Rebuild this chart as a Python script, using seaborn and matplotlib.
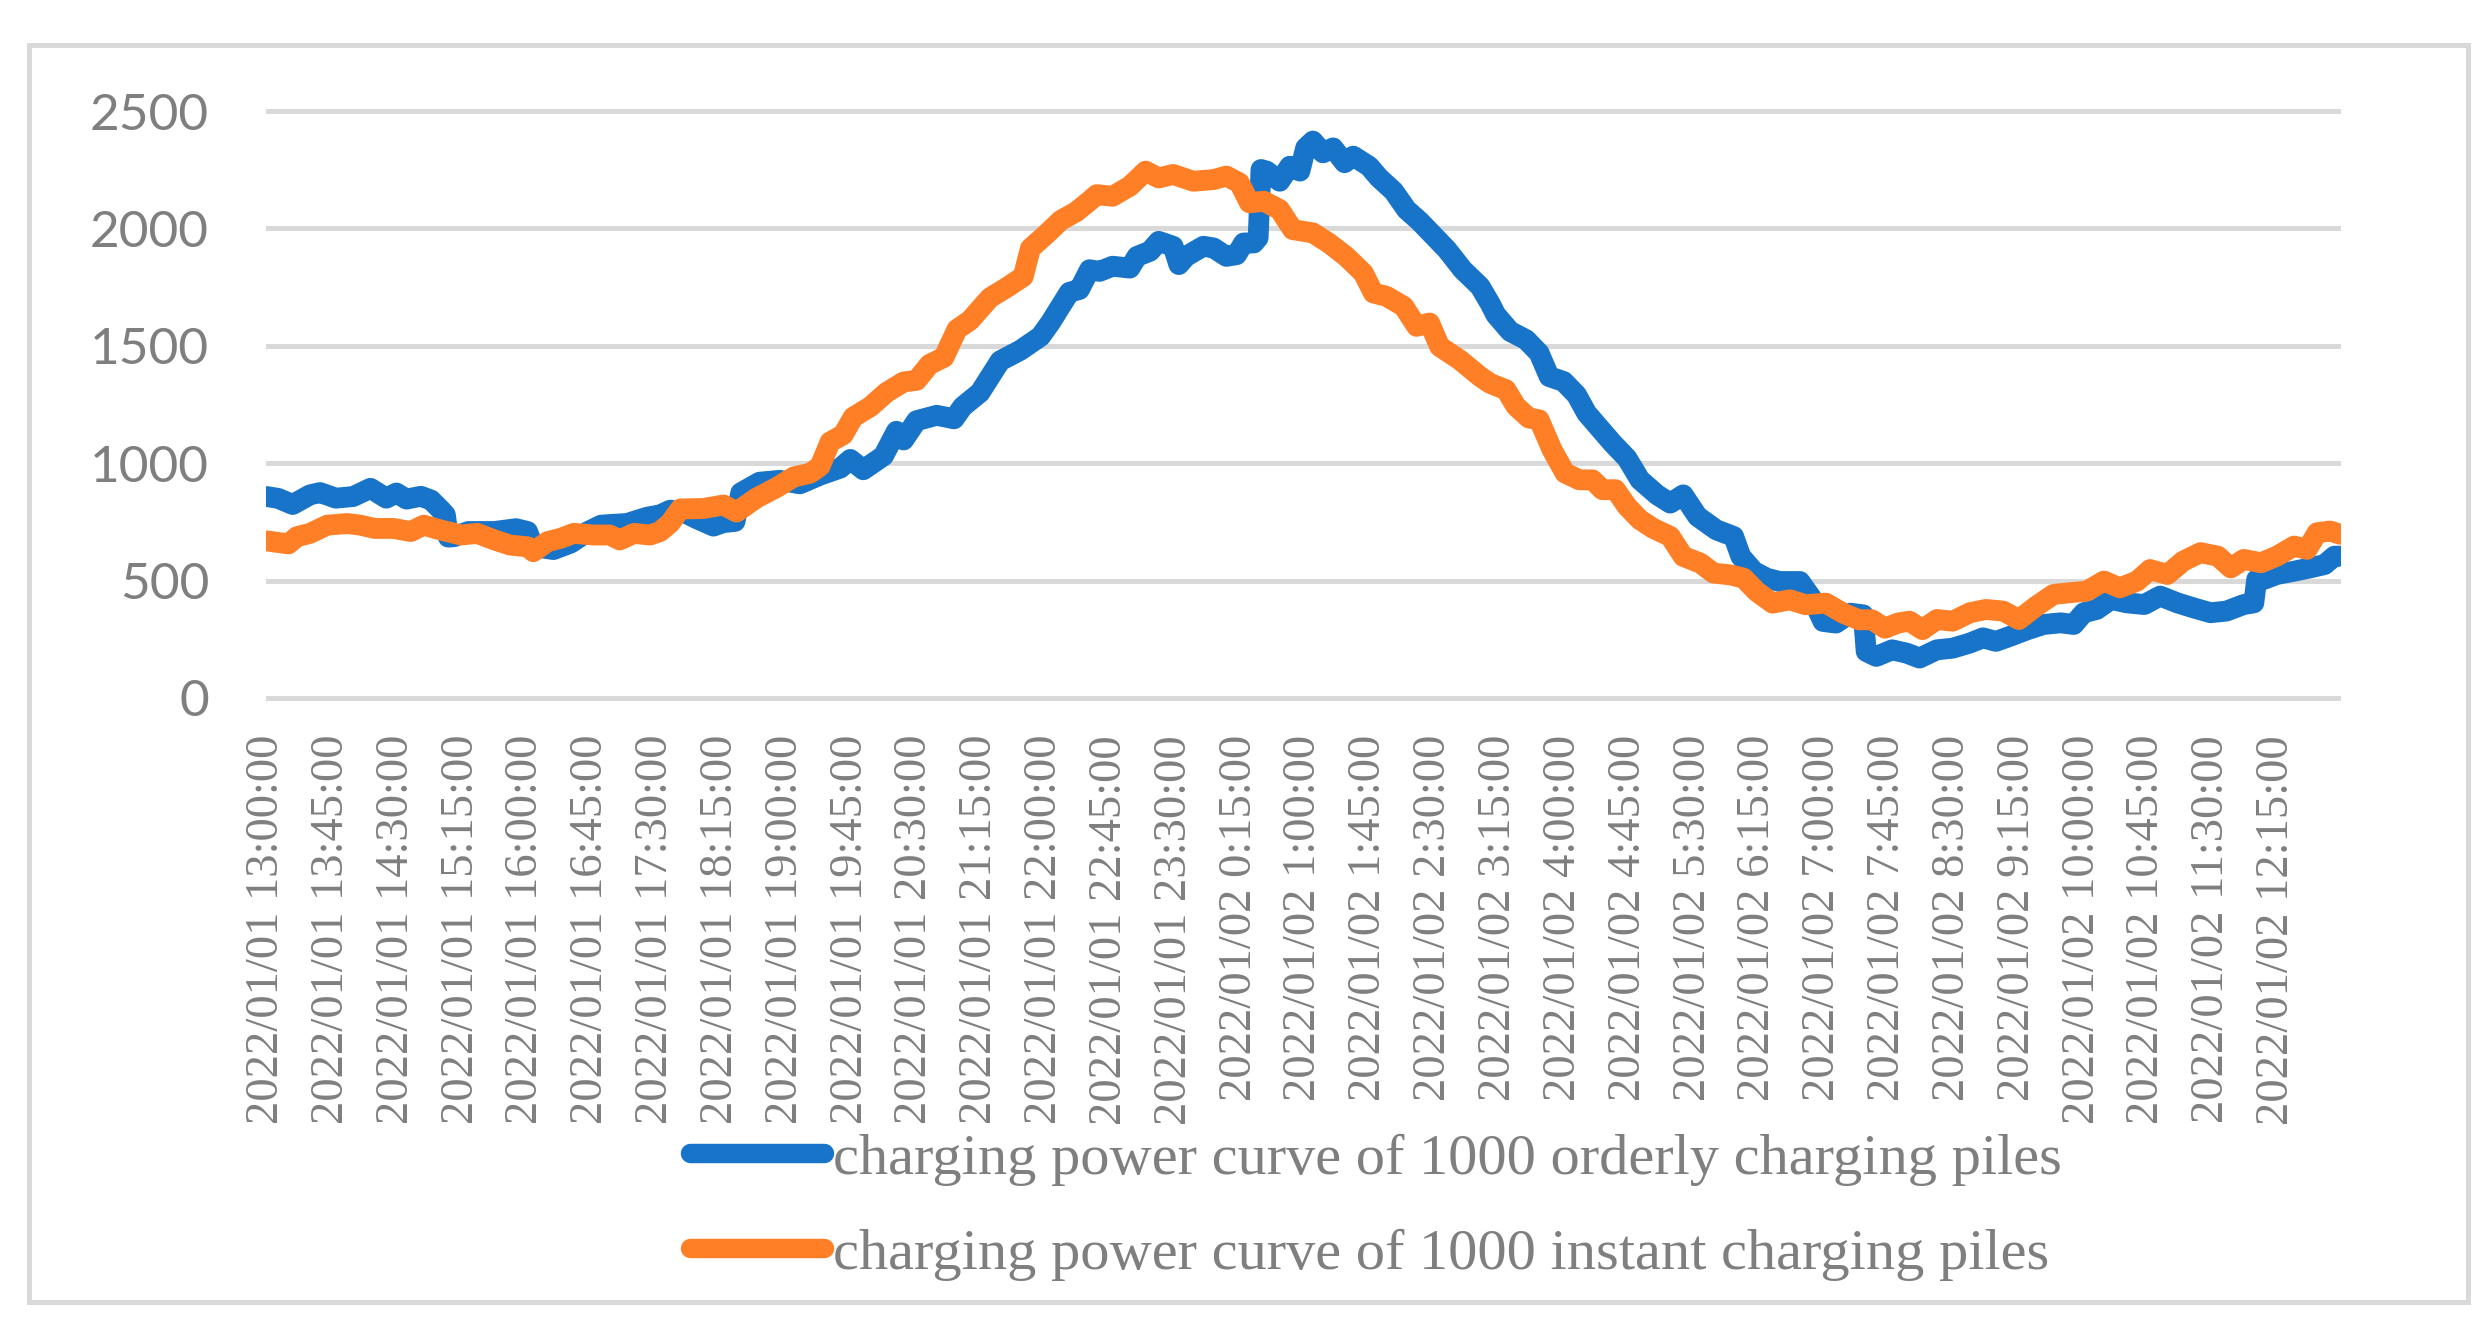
import numpy as np
import pandas as pd
import matplotlib
matplotlib.use("Agg")
import matplotlib.pyplot as plt
import seaborn as sns
from matplotlib.patches import Rectangle

# minutes after 2022/01/01 13:00
orderly_min = [0, 8, 18, 30, 37, 48, 60, 72, 83, 90, 97, 107, 114, 121, 124, 126, 130, 140, 158, 173,
               181, 185, 199, 211, 223, 232, 241, 250, 264, 273, 280, 289, 299, 310, 317, 325, 329, 342,
               356, 370, 384, 398, 405, 414, 428, 437, 442, 451, 465, 477, 483, 495, 509, 523, 537, 544,
               557, 564, 571, 578, 587, 599, 604, 613, 619, 629, 633, 638, 650, 657, 666, 673, 678, 685,
               688, 690, 694, 703, 710, 717, 721, 726, 733, 740, 748, 754, 765, 772, 782, 791, 800, 810,
               819, 830, 842, 849, 853, 863, 874, 883, 890, 900, 909, 916, 925, 934, 944, 953, 965, 974,
               983, 993, 1006, 1018, 1023, 1032, 1041, 1050, 1064, 1073, 1080, 1089, 1099, 1108, 1110,
               1117, 1128, 1138, 1147, 1159, 1170, 1182, 1191, 1200, 1210, 1222, 1233, 1245, 1254, 1261,
               1270, 1280, 1291, 1303, 1314, 1326, 1337, 1349, 1360, 1372, 1379, 1381, 1386, 1395, 1407,
               1418, 1428, 1435, 1439]
orderly_kw = [858, 850, 824, 865, 875, 851, 858, 893, 851, 873, 847, 859, 843, 800, 780, 685, 687, 709, 709, 721,
              709, 645, 632, 660, 709, 736, 740, 743, 770, 780, 800, 792, 762, 732, 747, 752, 874, 919,
              927, 912, 949, 979, 1016, 972, 1031, 1136, 1099, 1181, 1204, 1189, 1241, 1301, 1436, 1481, 1540, 1600,
              1728, 1740, 1824, 1817, 1839, 1831, 1881, 1903, 1945, 1924, 1846, 1881, 1924, 1917, 1881, 1888, 1938, 1938,
              1960, 2251, 2244, 2201, 2265, 2244, 2343, 2372, 2322, 2343, 2280, 2308, 2265, 2215, 2159, 2080, 2031, 1967,
              1910, 1824, 1753, 1680, 1632, 1561, 1526, 1469, 1369, 1348, 1291, 1213, 1149, 1085, 1021, 929, 865, 830,
              865, 773, 716, 688, 603, 539, 510, 496, 496, 418, 326, 319, 361, 354, 198,
              177, 205, 191, 170, 205, 212, 234, 256, 241, 263, 291, 313, 320, 313, 363,
              377, 420, 405, 398, 434, 405, 384, 363, 370, 398, 405, 505, 505, 526, 540,
              554, 568, 604, 604]

instant_min = [0, 15, 21, 30, 42, 56, 65, 75, 88, 100, 109, 121, 135, 146, 158, 169, 181, 185, 195, 204,
               213, 227, 238, 245, 255, 266, 273, 280, 287, 303, 317, 326, 340, 354, 366, 377, 384, 391,
               400, 407, 419, 430, 442, 451, 460, 470, 479, 488, 502, 514, 525, 530, 541, 551, 562, 571,
               576, 587, 599, 610, 619, 629, 643, 657, 666, 675, 682, 692, 703, 712, 726, 737, 749, 761,
               768, 777, 789, 798, 807, 814, 828, 842, 849, 860, 867, 876, 883, 892, 901, 911, 920, 927,
               936, 944, 953, 962, 974, 983, 995, 1004, 1016, 1025, 1034, 1045, 1057, 1068, 1082, 1094,
               1105, 1114, 1123, 1132, 1140, 1149, 1159, 1170, 1182, 1193, 1205, 1216, 1228, 1240, 1251,
               1263, 1275, 1286, 1298, 1307, 1319, 1330, 1342, 1354, 1363, 1372, 1384, 1395, 1407, 1416,
               1423, 1432, 1439]
instant_kw = [669, 656, 687, 701, 736, 743, 736, 722, 722, 709, 736, 715, 694, 701, 673, 651, 644, 623, 666, 680,
              701, 694, 694, 673, 701, 694, 709, 745, 805, 807, 822, 792, 852, 897, 942, 957, 987, 1091,
              1121, 1196, 1241, 1301, 1346, 1353, 1421, 1451, 1570, 1608, 1705, 1750, 1795, 1915, 1975, 2034, 2072, 2117,
              2144, 2137, 2180, 2244, 2215, 2230, 2201, 2208, 2223, 2194, 2109, 2116, 2080, 1995, 1981, 1938, 1881, 1810,
              1725, 1711, 1668, 1583, 1597, 1497, 1440, 1369, 1340, 1313, 1242, 1192, 1185, 1057, 958, 929, 929, 887,
              887, 816, 759, 723, 688, 603, 574, 532, 524, 510, 453, 404, 418, 397, 404, 361,
              333, 333, 297, 319, 327, 291, 334, 327, 363, 377, 370, 334, 391, 441, 448,
              455, 498, 469, 498, 547, 526, 583, 619, 604, 554, 590, 576, 604, 647, 633,
              704, 711, 697]

tick_labels = [
    "2022/01/01 13:00:00", "2022/01/01 13:45:00", "2022/01/01 14:30:00", "2022/01/01 15:15:00",
    "2022/01/01 16:00:00", "2022/01/01 16:45:00", "2022/01/01 17:30:00", "2022/01/01 18:15:00",
    "2022/01/01 19:00:00", "2022/01/01 19:45:00", "2022/01/01 20:30:00", "2022/01/01 21:15:00",
    "2022/01/01 22:00:00", "2022/01/01 22:45:00", "2022/01/01 23:30:00", "2022/01/02 0:15:00",
    "2022/01/02 1:00:00", "2022/01/02 1:45:00", "2022/01/02 2:30:00", "2022/01/02 3:15:00",
    "2022/01/02 4:00:00", "2022/01/02 4:45:00", "2022/01/02 5:30:00", "2022/01/02 6:15:00",
    "2022/01/02 7:00:00", "2022/01/02 7:45:00", "2022/01/02 8:30:00", "2022/01/02 9:15:00",
    "2022/01/02 10:00:00", "2022/01/02 10:45:00", "2022/01/02 11:30:00", "2022/01/02 12:15:00",
]

lab_orderly = "charging power curve of 1000 orderly charging piles"
lab_instant = "charging power curve of 1000 instant charging piles"

df = pd.concat([
    pd.DataFrame({"minute": orderly_min, "power": orderly_kw, "series": lab_orderly}),
    pd.DataFrame({"minute": instant_min, "power": instant_kw, "series": lab_instant}),
])

sns.set_style("white")
plt.rcParams["font.family"] = ["Liberation Serif", "DejaVu Serif"]
GREY = "#7f7f7f"

W, H = 2492, 1332
fig = plt.figure(figsize=(W / 200, H / 200), dpi=200)
ax = fig.add_axes([266 / W, 1 - 705 / H, (2341 - 266) / W, (705 - 104) / H])

sns.lineplot(data=df, x="minute", y="power", hue="series",
             palette={lab_orderly: "#1874C8", lab_instant: "#FF7F27"},
             estimator=None, linewidth=7.5, ax=ax)
for ln in ax.lines:
    ln.set_solid_joinstyle("round")
    ln.set_solid_capstyle("round")

ax.set_xlim(-0.5, 1439.5)
ax.set_ylim(-30, 2530)
ax.set_yticks(np.arange(0, 2501, 500))
ax.set_xticks(np.arange(0, 1396, 45))
ax.set_xticklabels(tick_labels, rotation=90, fontsize=16.8, color=GREY, va="top", ha="center")
ax.set_yticklabels([str(v) for v in range(0, 2501, 500)], fontsize=18.5, color=GREY, family="Lato")
ax.tick_params(axis="x", length=0, pad=10.8)
ax.tick_params(axis="y", length=0, pad=20.5)
ax.set_xlabel("")
ax.set_ylabel("")
ax.yaxis.grid(True, color="#d9d9d9", linewidth=1.8)
ax.xaxis.grid(False)
ax.set_axisbelow(True)
for s in ax.spines.values():
    s.set_visible(False)

handles, labels = ax.get_legend_handles_labels()
leg = ax.legend(handles, labels, loc="upper left",
                bbox_to_anchor=(690 / W, 1 - 1133 / H), bbox_transform=fig.transFigure,
                frameon=False, fontsize=21, handlelength=2.3, handletextpad=0.15,
                labelspacing=0.72, borderpad=0, borderaxespad=0, labelcolor=GREY)
for h in leg.legend_handles:
    h.set_linewidth(7)
    h.set_solid_capstyle("round")

fig.add_artist(Rectangle((29 / W, 1 - 1302 / H), (2468 - 29) / W, (1302 - 45) / H,
                         transform=fig.transFigure, fill=False,
                         edgecolor="#d9d9d9", linewidth=1.8))

fig.savefig("out.png", dpi=200)
